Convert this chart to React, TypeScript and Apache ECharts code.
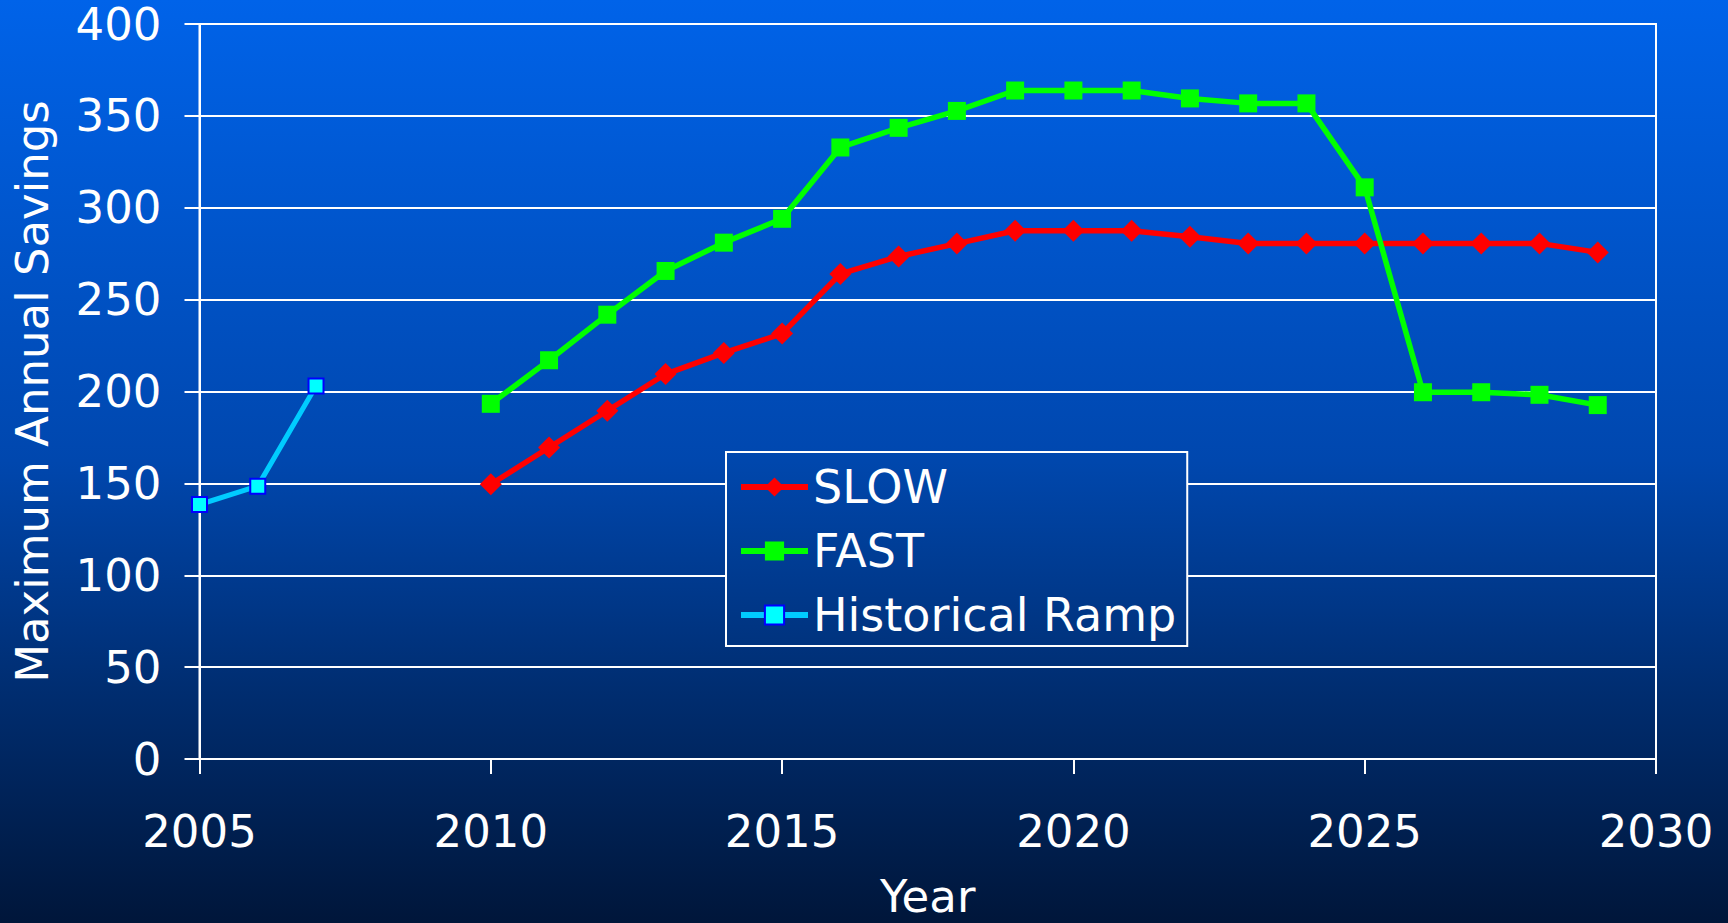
import React, { useEffect, useRef } from "react";
import * as echarts from "echarts";

const historicalYears = [2005, 2006, 2007];
const historicalValues = [138.5, 148.5, 203];

const scenarioYears = [2010, 2011, 2012, 2013, 2014, 2015, 2016, 2017, 2018, 2019, 2020, 2021, 2022, 2023, 2024, 2025, 2026, 2027, 2028, 2029];
const slowValues = [149.5, 169.5, 189.5, 209.5, 221, 231.5, 264, 273.5, 280.5, 287.5, 287.5, 287.5, 284.2, 280.6, 280.6, 280.6, 280.6, 280.6, 280.6, 275.7];
const fastValues = [193.3, 217, 241.8, 265.6, 281, 294, 332.8, 343.5, 352.7, 363.8, 363.8, 363.8, 359.5, 356.8, 356.8, 311.1, 199.6, 199.6, 198.2, 192.6];

const seriesNames = ["SLOW", "FAST", "Historical Ramp"];
const xAxisTitle = "Year";
const yAxisTitle = "Maximum Annual Savings";

const FONT = "DejaVu Sans";

const bgStops: [number, number[]][] = [
  [0, [0, 99, 233]],
  [0.5, [0, 71, 174]],
  [0.75, [0, 45, 112]],
  [1, [0, 22, 58]],
];

function gradAt(t: number): string {
  for (let i = 0; i < bgStops.length - 1; i++) {
    const [a, ca] = bgStops[i];
    const [b, cb] = bgStops[i + 1];
    if (t >= a && t <= b) {
      const f = (t - a) / (b - a);
      const c = ca.map((v, k) => Math.round(v + (cb[k] - v) * f));
      return `rgb(${c[0]},${c[1]},${c[2]})`;
    }
  }
  const c = bgStops[bgStops.length - 1][1];
  return `rgb(${c[0]},${c[1]},${c[2]})`;
}

function pairs(xs: number[], ys: number[]) {
  return xs.map((x, i) => [x, ys[i]]);
}

export default function App() {
  const ref = useRef<HTMLDivElement>(null);
  useEffect(() => {
    if (!ref.current) return;
    const chart = echarts.init(ref.current, null, { renderer: "svg" });
    const legendTop = 452;
    const legendBottom = 641;
    const option: any = {
      animation: false,
      backgroundColor: "transparent",
      grid: {
        left: 199.5,
        right: 72,
        top: 24,
        bottom: 164,
        outerBoundsMode: "none",
        containLabel: false,
        show: true,
        borderColor: "#ffffff",
        borderWidth: 2,
        backgroundColor: "transparent",
      },
      xAxis: {
        type: "value",
        min: 2005,
        max: 2030,
        interval: 5,
        name: xAxisTitle,
        nameLocation: "middle",
        nameGap: 116,
        nameTextStyle: { color: "#ffffff", fontFamily: FONT, fontSize: 45, lineHeight: 42 },
        axisLine: { show: true, lineStyle: { color: "#ffffff", width: 2 } },
        axisTick: { show: true, length: 15, lineStyle: { color: "#ffffff", width: 2 } },
        axisLabel: {
          color: "#ffffff",
          fontFamily: FONT,
          fontSize: 45,
          margin: 50,
          formatter: (v: number) => String(v),
        },
        splitLine: { show: false },
      },
      yAxis: {
        type: "value",
        min: 0,
        max: 400,
        interval: 50,
        name: yAxisTitle,
        nameLocation: "middle",
        nameGap: 145,
        nameTextStyle: { color: "#ffffff", fontFamily: FONT, fontSize: 45 },
        axisLine: { show: true, lineStyle: { color: "#ffffff", width: 2 } },
        axisTick: { show: true, length: 15, lineStyle: { color: "#ffffff", width: 2 } },
        axisLabel: { color: "#ffffff", fontFamily: FONT, fontSize: 45, lineHeight: 40, margin: 38 },
        splitLine: { show: true, lineStyle: { color: "#ffffff", width: 2 } },
      },
      legend: {
        orient: "vertical",
        left: 726,
        top: legendTop,
        padding: [12, 11, 8, 12],
        itemWidth: 67,
        itemHeight: 24,
        itemGap: 18,
        itemTextGap: 10,
        borderColor: "#ffffff",
        borderWidth: 2,
        lineStyle: { width: 6 },
        backgroundColor: {
          type: "linear",
          x: 0,
          y: 0,
          x2: 0,
          y2: 1,
          colorStops: [
            { offset: 0, color: gradAt(legendTop / 923) },
            { offset: 1, color: gradAt(legendBottom / 923) },
          ],
        },
        textStyle: { color: "#ffffff", fontFamily: FONT, fontSize: 46, lineHeight: 46 },
        data: seriesNames,
      },
      series: [
        {
          name: seriesNames[0],
          type: "line",
          data: pairs(scenarioYears, slowValues),
          symbol: "diamond",
          symbolSize: 22,
          lineStyle: { color: "#ff0000", width: 5.5 },
          itemStyle: { color: "#ff0000" },
          z: 3,
        },
        {
          name: seriesNames[1],
          type: "line",
          data: pairs(scenarioYears, fastValues),
          symbol: "rect",
          symbolSize: 18,
          lineStyle: { color: "#00ff00", width: 5.5 },
          itemStyle: { color: "#00ff00" },
          z: 4,
        },
        {
          name: seriesNames[2],
          type: "line",
          data: pairs(historicalYears, historicalValues),
          symbol: "rect",
          symbolSize: 15,
          lineStyle: { color: "#00ccff", width: 5 },
          itemStyle: { color: "#00ffff", borderColor: "#0000ff", borderWidth: 2 },
          z: 5,
        },
      ],
    };
    chart.setOption(option);
    return () => chart.dispose();
  }, []);

  const cssGrad = `linear-gradient(to bottom, ${bgStops
    .map(([o, c]) => `rgb(${c[0]},${c[1]},${c[2]}) ${o * 100}%`)
    .join(", ")})`;

  return (
    <div
      ref={ref}
      style={{ position: "fixed", left: 0, top: 0, width: 1728, height: 923, background: cssGrad }}
    />
  );
}
